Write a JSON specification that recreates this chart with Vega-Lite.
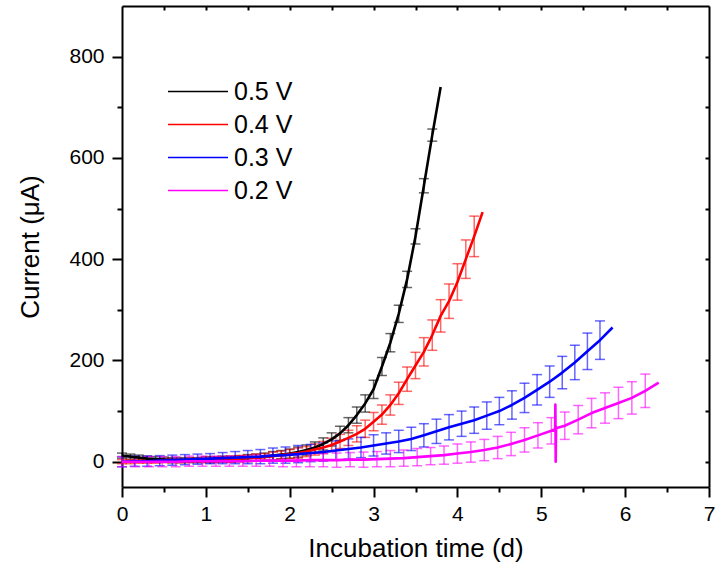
{
  "$schema": "https://vega.github.io/schema/vega-lite/v6.json",
  "width": 587,
  "height": 481,
  "autosize": {"type": "none"},
  "padding": {"left": 122, "top": 6, "right": 6, "bottom": 80},
  "background": "white",
  "config": {
    "font": "Liberation Sans",
    "view": {"stroke": null},
    "axis": {
      "grid": false,
      "domainColor": "black",
      "domainWidth": 2,
      "tickColor": "black",
      "tickWidth": 2,
      "labelColor": "black",
      "titleColor": "black",
      "labelFontSize": 21,
      "titleFontSize": 26,
      "titleFontWeight": "normal"
    }
  },
  "datasets": {
    "current": [
      {"s":"0.5 V","t":0,"I":12,"e":5},{"s":"0.5 V","t":0.1,"I":10,"e":5},{"s":"0.5 V","t":0.2,"I":8,"e":5},{"s":"0.5 V","t":0.3,"I":6,"e":5},{"s":"0.5 V","t":0.4,"I":5,"e":5},
      {"s":"0.5 V","t":0.5,"I":4,"e":5},{"s":"0.5 V","t":0.6,"I":3,"e":5},{"s":"0.5 V","t":0.7,"I":3,"e":5},{"s":"0.5 V","t":0.8,"I":3,"e":5},{"s":"0.5 V","t":0.9,"I":3,"e":5},
      {"s":"0.5 V","t":1.0,"I":4,"e":6},{"s":"0.5 V","t":1.1,"I":4,"e":6},{"s":"0.5 V","t":1.2,"I":5,"e":6},{"s":"0.5 V","t":1.3,"I":5,"e":6},{"s":"0.5 V","t":1.4,"I":6,"e":6},
      {"s":"0.5 V","t":1.5,"I":7,"e":7},{"s":"0.5 V","t":1.6,"I":8,"e":7},{"s":"0.5 V","t":1.7,"I":10,"e":7},{"s":"0.5 V","t":1.8,"I":12,"e":8},{"s":"0.5 V","t":1.9,"I":14,"e":8},
      {"s":"0.5 V","t":2.0,"I":16,"e":9},{"s":"0.5 V","t":2.1,"I":19,"e":10},{"s":"0.5 V","t":2.2,"I":23,"e":10},{"s":"0.5 V","t":2.3,"I":28,"e":11},{"s":"0.5 V","t":2.4,"I":35,"e":12},
      {"s":"0.5 V","t":2.5,"I":44,"e":13},{"s":"0.5 V","t":2.6,"I":56,"e":14},{"s":"0.5 V","t":2.7,"I":72,"e":15},{"s":"0.5 V","t":2.8,"I":92,"e":16},{"s":"0.5 V","t":2.9,"I":115,"e":17},
      {"s":"0.5 V","t":3.0,"I":143,"e":18},{"s":"0.5 V","t":3.1,"I":188,"e":18},{"s":"0.5 V","t":3.2,"I":235,"e":18},{"s":"0.5 V","t":3.3,"I":292,"e":17},{"s":"0.5 V","t":3.4,"I":360,"e":16},
      {"s":"0.5 V","t":3.5,"I":445,"e":15},{"s":"0.5 V","t":3.6,"I":545,"e":14},{"s":"0.5 V","t":3.7,"I":645,"e":12},{"s":"0.5 V","t":3.8,"I":740},

      {"s":"0.4 V","t":0,"I":0,"e":4},{"s":"0.4 V","t":0.1,"I":0,"e":4},{"s":"0.4 V","t":0.2,"I":1,"e":4},{"s":"0.4 V","t":0.3,"I":1,"e":4},{"s":"0.4 V","t":0.4,"I":1,"e":4},
      {"s":"0.4 V","t":0.5,"I":2,"e":4},{"s":"0.4 V","t":0.6,"I":2,"e":4},{"s":"0.4 V","t":0.7,"I":2,"e":4},{"s":"0.4 V","t":0.8,"I":3,"e":4},{"s":"0.4 V","t":0.9,"I":3,"e":4},
      {"s":"0.4 V","t":1.0,"I":4,"e":5},{"s":"0.4 V","t":1.1,"I":4,"e":5},{"s":"0.4 V","t":1.2,"I":5,"e":5},{"s":"0.4 V","t":1.3,"I":5,"e":6},{"s":"0.4 V","t":1.4,"I":6,"e":6},
      {"s":"0.4 V","t":1.5,"I":7,"e":6},{"s":"0.4 V","t":1.6,"I":8,"e":7},{"s":"0.4 V","t":1.7,"I":9,"e":7},{"s":"0.4 V","t":1.8,"I":11,"e":8},{"s":"0.4 V","t":1.9,"I":13,"e":8},
      {"s":"0.4 V","t":2.0,"I":15,"e":9},{"s":"0.4 V","t":2.1,"I":17,"e":10},{"s":"0.4 V","t":2.2,"I":20,"e":10},{"s":"0.4 V","t":2.3,"I":24,"e":11},{"s":"0.4 V","t":2.4,"I":28,"e":12},
      {"s":"0.4 V","t":2.5,"I":33,"e":13},{"s":"0.4 V","t":2.6,"I":40,"e":14},{"s":"0.4 V","t":2.7,"I":47,"e":15},{"s":"0.4 V","t":2.8,"I":55,"e":16},{"s":"0.4 V","t":2.9,"I":65,"e":17},
      {"s":"0.4 V","t":3.0,"I":79,"e":18},{"s":"0.4 V","t":3.1,"I":93,"e":19},{"s":"0.4 V","t":3.2,"I":112,"e":20},{"s":"0.4 V","t":3.3,"I":135,"e":22},{"s":"0.4 V","t":3.4,"I":163,"e":24},
      {"s":"0.4 V","t":3.5,"I":190,"e":26},{"s":"0.4 V","t":3.6,"I":217,"e":28},{"s":"0.4 V","t":3.7,"I":250,"e":30},{"s":"0.4 V","t":3.8,"I":288,"e":32},{"s":"0.4 V","t":3.9,"I":317,"e":34},
      {"s":"0.4 V","t":4.0,"I":355,"e":36},{"s":"0.4 V","t":4.1,"I":400,"e":38},{"s":"0.4 V","t":4.2,"I":445,"e":40},{"s":"0.4 V","t":4.3,"I":493},

      {"s":"0.3 V","t":0,"I":0,"e":10},{"s":"0.3 V","t":0.15,"I":1,"e":10},{"s":"0.3 V","t":0.3,"I":1,"e":10},{"s":"0.3 V","t":0.45,"I":2,"e":10},{"s":"0.3 V","t":0.6,"I":3,"e":10},
      {"s":"0.3 V","t":0.75,"I":4,"e":10},{"s":"0.3 V","t":0.9,"I":5,"e":10},{"s":"0.3 V","t":1.05,"I":6,"e":10},{"s":"0.3 V","t":1.2,"I":7,"e":11},{"s":"0.3 V","t":1.35,"I":8,"e":12},
      {"s":"0.3 V","t":1.5,"I":9,"e":13},{"s":"0.3 V","t":1.65,"I":10,"e":14},{"s":"0.3 V","t":1.8,"I":12,"e":15},{"s":"0.3 V","t":1.95,"I":13,"e":16},{"s":"0.3 V","t":2.1,"I":15,"e":17},
      {"s":"0.3 V","t":2.25,"I":17,"e":17},{"s":"0.3 V","t":2.4,"I":19,"e":18},{"s":"0.3 V","t":2.55,"I":22,"e":19},{"s":"0.3 V","t":2.7,"I":25,"e":20},{"s":"0.3 V","t":2.85,"I":28,"e":20},
      {"s":"0.3 V","t":3.0,"I":32,"e":21},{"s":"0.3 V","t":3.15,"I":36,"e":21},{"s":"0.3 V","t":3.3,"I":40,"e":22},{"s":"0.3 V","t":3.45,"I":45,"e":23},{"s":"0.3 V","t":3.6,"I":52,"e":23},
      {"s":"0.3 V","t":3.75,"I":60,"e":24},{"s":"0.3 V","t":3.9,"I":68,"e":25},{"s":"0.3 V","t":4.05,"I":75,"e":25},{"s":"0.3 V","t":4.2,"I":82,"e":26},{"s":"0.3 V","t":4.35,"I":91,"e":27},
      {"s":"0.3 V","t":4.5,"I":100,"e":27},{"s":"0.3 V","t":4.65,"I":112,"e":28},{"s":"0.3 V","t":4.8,"I":126,"e":29},{"s":"0.3 V","t":4.95,"I":142,"e":30},{"s":"0.3 V","t":5.1,"I":158,"e":31},
      {"s":"0.3 V","t":5.25,"I":176,"e":32},{"s":"0.3 V","t":5.4,"I":196,"e":34},{"s":"0.3 V","t":5.55,"I":218,"e":36},{"s":"0.3 V","t":5.7,"I":240,"e":38},{"s":"0.3 V","t":5.85,"I":265},

      {"s":"0.2 V","t":0,"I":0,"e":10},{"s":"0.2 V","t":0.16,"I":0,"e":10},{"s":"0.2 V","t":0.32,"I":0,"e":10},{"s":"0.2 V","t":0.48,"I":0,"e":10},{"s":"0.2 V","t":0.64,"I":0,"e":10},
      {"s":"0.2 V","t":0.8,"I":1,"e":10},{"s":"0.2 V","t":0.96,"I":1,"e":10},{"s":"0.2 V","t":1.12,"I":1,"e":10},{"s":"0.2 V","t":1.28,"I":1,"e":10},{"s":"0.2 V","t":1.44,"I":1,"e":10},
      {"s":"0.2 V","t":1.6,"I":2,"e":11},{"s":"0.2 V","t":1.76,"I":2,"e":11},{"s":"0.2 V","t":1.92,"I":2,"e":12},{"s":"0.2 V","t":2.08,"I":2,"e":12},{"s":"0.2 V","t":2.24,"I":3,"e":13},
      {"s":"0.2 V","t":2.4,"I":3,"e":13},{"s":"0.2 V","t":2.56,"I":3,"e":14},{"s":"0.2 V","t":2.72,"I":4,"e":14},{"s":"0.2 V","t":2.88,"I":4,"e":15},{"s":"0.2 V","t":3.04,"I":5,"e":15},
      {"s":"0.2 V","t":3.2,"I":6,"e":16},{"s":"0.2 V","t":3.36,"I":7,"e":16},{"s":"0.2 V","t":3.52,"I":9,"e":17},{"s":"0.2 V","t":3.68,"I":11,"e":17},{"s":"0.2 V","t":3.84,"I":13,"e":18},
      {"s":"0.2 V","t":4.0,"I":16,"e":19},{"s":"0.2 V","t":4.16,"I":19,"e":20},{"s":"0.2 V","t":4.32,"I":23,"e":21},{"s":"0.2 V","t":4.48,"I":28,"e":22},{"s":"0.2 V","t":4.64,"I":35,"e":23},
      {"s":"0.2 V","t":4.8,"I":43,"e":24},{"s":"0.2 V","t":4.96,"I":52,"e":25},{"s":"0.2 V","t":5.12,"I":61,"e":26},
      {"s":"0.2 V","t":5.165,"I":64},{"s":"0.2 V","t":5.168,"I":113},{"s":"0.2 V","t":5.172,"I":0},{"s":"0.2 V","t":5.176,"I":66},
      {"s":"0.2 V","t":5.28,"I":71,"e":27},{"s":"0.2 V","t":5.44,"I":83,"e":28},
      {"s":"0.2 V","t":5.6,"I":96,"e":29},{"s":"0.2 V","t":5.76,"I":106,"e":30},{"s":"0.2 V","t":5.92,"I":116,"e":31},{"s":"0.2 V","t":6.08,"I":126,"e":32},{"s":"0.2 V","t":6.24,"I":140,"e":33},
      {"s":"0.2 V","t":6.4,"I":156}
    ]
  },
  "data": {"name": "current"},
  "layer": [
    {
      "transform": [{"filter": "isValid(datum.e)"}],
      "mark": {
        "type": "errorbar",
        "opacity": 0.6,
        "thickness": 1.5,
        "ticks": {"size": 10, "thickness": 1.5}
      },
      "encoding": {
        "x": {"field": "t", "type": "quantitative", "scale": {"domain": [0, 7], "nice": false, "zero": false}, "axis": null},
        "y": {"field": "I", "type": "quantitative", "scale": {"domain": [-50, 900], "nice": false, "zero": false}, "axis": null},
        "yError": {"field": "e"},
        "color": {
          "field": "s",
          "type": "nominal",
          "scale": {"domain": ["0.5 V", "0.4 V", "0.3 V", "0.2 V"], "range": ["#000000", "#ff0000", "#0000ff", "#ff00ff"]},
          "legend": null
        }
      }
    },
    {
      "mark": {"type": "line", "strokeWidth": 2.6, "strokeJoin": "round"},
      "encoding": {
        "x": {
          "field": "t",
          "type": "quantitative",
          "scale": {"domain": [0, 7], "nice": false, "zero": false},
          "axis": {
            "orient": "bottom",
            "title": "Incubation time (d)",
            "values": [0, 0.5, 1, 1.5, 2, 2.5, 3, 3.5, 4, 4.5, 5, 5.5, 6, 6.5, 7],
            "labelExpr": "datum.value % 1 === 0 ? '' + datum.value : ''",
            "tickSize": {"condition": {"test": "datum.value % 1 !== 0", "value": 5}, "value": 10},
            "labelPadding": 6,
            "titlePadding": 11,
            "labelFlush": false,
            "labelOverlap": false
          }
        },
        "y": {
          "field": "I",
          "type": "quantitative",
          "scale": {"domain": [-50, 900], "nice": false, "zero": false},
          "axis": {
            "orient": "left",
            "title": "Current (μA)",
            "values": [0, 100, 200, 300, 400, 500, 600, 700, 800],
            "labelExpr": "datum.value % 200 === 0 ? '' + datum.value : ''",
            "tickSize": {"condition": {"test": "datum.value % 200 !== 0", "value": 5}, "value": 10},
            "labelPadding": 8,
            "titlePadding": 25,
            "labelFlush": false,
            "labelOverlap": false
          }
        },
        "color": {
          "field": "s",
          "type": "nominal",
          "scale": {"domain": ["0.5 V", "0.4 V", "0.3 V", "0.2 V"], "range": ["#000000", "#ff0000", "#0000ff", "#ff00ff"]},
          "legend": {
            "orient": "none",
            "legendX": 45,
            "legendY": 73,
            "title": null,
            "padding": 0,
            "symbolType": "stroke",
            "symbolSize": 3600,
            "symbolStrokeWidth": 1.5,
            "symbolOpacity": 1,
            "clipHeight": 25,
            "rowPadding": 7,
            "labelFontSize": 25,
            "labelColor": "black",
            "labelOffset": 5
          }
        }
      }
    },
    {
      "mark": {"type": "point", "opacity": 0},
      "encoding": {
        "x": {
          "field": "t",
          "type": "quantitative",
          "scale": {"domain": [0, 7], "nice": false, "zero": false},
          "axis": {
            "orient": "top",
            "title": null,
            "labels": false,
            "values": [0.5, 1, 1.5, 2, 2.5, 3, 3.5, 4, 4.5, 5, 5.5, 6, 6.5],
            "tickSize": -4
          }
        },
        "y": {
          "field": "I",
          "type": "quantitative",
          "scale": {"domain": [-50, 900], "nice": false, "zero": false},
          "axis": {
            "orient": "right",
            "title": null,
            "labels": false,
            "values": [0, 100, 200, 300, 400, 500, 600, 700, 800],
            "tickSize": -4
          }
        }
      }
    }
  ],
  "resolve": {
    "axis": {"x": "independent", "y": "independent"},
    "legend": {"color": "independent"}
  }
}
